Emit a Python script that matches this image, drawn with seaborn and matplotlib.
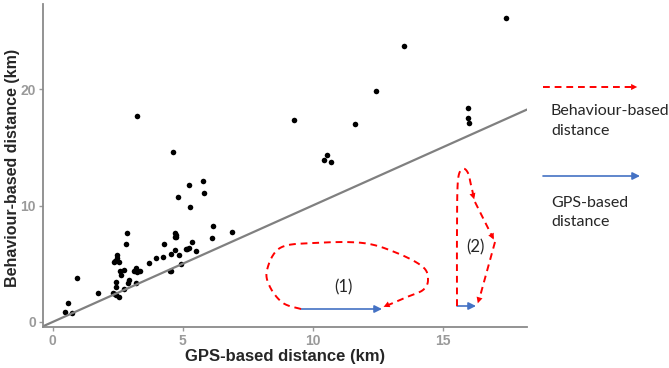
import numpy as np
import pandas as pd
import matplotlib
matplotlib.use("Agg")
import matplotlib.pyplot as plt
from matplotlib.patches import FancyArrowPatch
import seaborn as sns

# values
gps_km = [3.25, 4.62, 5.78, 5.24, 5.82, 4.82, 5.29, 6.17, 6.90, 6.12,
          4.72, 4.74, 4.70, 4.75, 2.85, 2.81, 4.27, 5.37, 5.23, 5.17,
          5.12, 5.51, 4.69, 4.54, 4.86, 3.97, 4.25, 3.72, 2.48, 2.46,
          2.41, 2.37, 2.54, 2.60, 2.64, 2.75, 3.19, 3.14, 3.24, 3.36,
          3.20, 4.50, 4.54, 4.95, 2.95, 2.91, 2.45, 2.43, 2.74, 2.32,
          2.38, 2.45, 2.54, 1.74, 0.95, 0.58, 0.47, 0.75, 17.43, 13.50,
          12.42, 11.63, 9.29, 15.96, 15.96, 16.01, 10.55, 10.45, 10.70]
behaviour_km = [17.70, 14.60, 12.10, 11.80, 11.10, 10.70, 9.85, 8.28, 7.73, 7.18,
                7.65, 7.50, 7.30, 7.27, 7.65, 6.70, 6.66, 6.84, 6.35, 6.30,
                6.23, 6.12, 6.20, 5.86, 5.78, 5.49, 5.55, 5.09, 5.75, 5.49,
                5.20, 5.11, 5.14, 4.42, 4.05, 4.48, 4.62, 4.34, 4.28, 4.34,
                3.34, 4.40, 4.37, 4.97, 3.62, 3.39, 3.47, 3.04, 2.84, 2.47,
                2.38, 2.30, 2.13, 2.50, 3.79, 1.64, 0.84, 0.75, 26.10, 23.70,
                19.85, 17.04, 17.30, 18.34, 17.53, 17.07, 14.31, 13.94, 13.73]
x_ticks = [0, 5, 10, 15]
y_ticks = [0, 10, 20]

df = pd.DataFrame({"gps": gps_km, "behaviour": behaviour_km})

sns.set_theme(style="ticks")
plt.rcParams["font.family"] = ["Liberation Sans", "DejaVu Sans"]

W, H = 669, 368
fig = plt.figure(figsize=(W / 100, H / 100), dpi=100)
ax = fig.add_axes([43 / W, 1 - 327 / H, (527 - 43) / W, (327 - 4) / H])

sns.scatterplot(data=df, x="gps", y="behaviour", color="black", s=16,
                linewidth=0, ax=ax)
ax.axline((0, 0), slope=1, color="#808080", lw=1.6, zorder=1)

ax.set_xlim(-0.37, 18.24)
ax.set_ylim(-0.43, 27.3)
ax.set_xticks(x_ticks)
ax.set_yticks(y_ticks)
ax.tick_params(colors="#9a9a9a", labelsize=10, length=3, width=1, pad=2)
for lab in ax.get_xticklabels() + ax.get_yticklabels():
    lab.set_fontweight("bold")
for side in ["left", "bottom"]:
    ax.spines[side].set_color("#8a8a8a")
    ax.spines[side].set_linewidth(1.3)
sns.despine(ax=ax)
ax.set_xlabel("GPS-based distance (km)", fontsize=12, fontweight="bold", va="center")
ax.set_ylabel("Behaviour-based distance (km)", fontsize=11.5, fontweight="bold", va="center")
ax.xaxis.set_label_coords((285 - 43) / 484, -(357 - 327) / 323)
ax.yaxis.set_label_coords(-(43 - 12.5) / 484, (327 - 168) / 323)

# annotation drawing, positions given in pixels of the figure
def to_fig(pts):
    pts = np.asarray(pts, float)
    return pts[:, 0] / W, 1 - pts[:, 1] / H

def smooth(pts, n=16):
    p = np.asarray(pts, float)
    p = np.vstack([p[0], p, p[-1]])
    out = []
    t = np.linspace(0, 1, n, endpoint=False)[:, None]
    for i in range(1, len(p) - 2):
        p0, p1, p2, p3 = p[i - 1], p[i], p[i + 1], p[i + 2]
        out.append(0.5 * (2 * p1 + (-p0 + p2) * t + (2 * p0 - 5 * p1 + 4 * p2 - p3) * t ** 2
                          + (-p0 + 3 * p1 - 3 * p2 + p3) * t ** 3))
    out.append(p[-2][None])
    return np.vstack(out)

red = "#ff0000"
blue = "#4472c4"

def dashed(pts):
    fx, fy = to_fig(pts)
    fig.add_artist(plt.Line2D(fx, fy, color=red, lw=1.4, ls=(0, (3.5, 2.5))))

def head(a, b, color=red):
    fa = to_fig([a])
    fb = to_fig([b])
    fig.add_artist(FancyArrowPatch((fa[0][0], fa[1][0]), (fb[0][0], fb[1][0]),
                                   transform=fig.transFigure, arrowstyle="-|>",
                                   mutation_scale=11, color=color, lw=0))

def solid_arrow(a, b):
    fa = to_fig([a])
    fb = to_fig([b])
    fig.add_artist(FancyArrowPatch((fa[0][0], fa[1][0]), (fb[0][0], fb[1][0]),
                                   transform=fig.transFigure, arrowstyle="-|>",
                                   mutation_scale=11, color=blue, lw=1.2,
                                   shrinkA=0, shrinkB=0))

def label(x, y, s, size=12):
    fig.text(x / W, 1 - y / H, s, ha="left", va="baseline", fontsize=size,
             family=["Lato", "DejaVu Sans"])

# loop (1)
loop1 = smooth([(301, 309), (283, 303), (270, 287), (267, 270), (280, 248), (313, 243),
                (363, 243), (397, 253), (423, 267), (428, 280), (423, 290),
                (407, 297), (386, 306)])
dashed(loop1)
head((392, 303), (381, 308))
solid_arrow((301, 309), (382, 309))
label(334, 292, "(1)")

# loop (2)
top = smooth([(457, 306), (457, 230), (458, 180), (463, 169), (468, 173),
              (471, 185), (474, 198)], n=10)
dashed(top)
head((472, 192), (475, 202))
dashed([(475, 202), (493, 238)])
head((491, 234), (495, 242))
dashed([(495, 242), (479, 300)])
head((480, 296), (477, 306))
solid_arrow((457, 306), (476, 306))
label(466, 252, "(2)")

# key on the right
dashed([(543, 87), (632, 87)])
head((630, 87), (640, 87))
solid_arrow((543, 176), (640, 176))
label(551, 115, "Behaviour-based", 11.5)
label(551, 135, "distance", 11.5)
label(551, 207, "GPS-based", 11.5)
label(551, 226, "distance", 11.5)

fig.savefig("out.png", dpi=100)
